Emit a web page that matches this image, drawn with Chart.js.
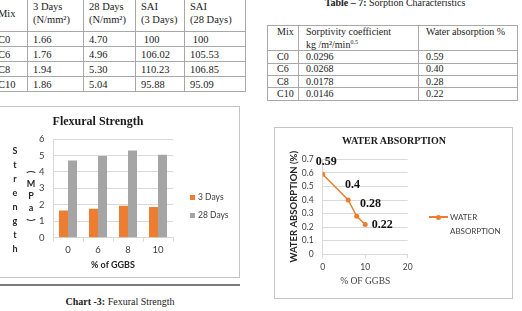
<!DOCTYPE html>
<html>
<head>
<meta charset="utf-8">
<script src="https://cdn.jsdelivr.net/npm/chart.js@4.4.1/dist/chart.umd.min.js"></script>
<style>
body { margin: 0; width: 522px; height: 311px; overflow: hidden; background: #fff; position: relative; font-family: "Liberation Serif", serif; color: #1a1a1a; }
.abs { position: absolute; }
table { position: absolute; border-collapse: collapse; table-layout: fixed; }
td { border: 1px solid #a8a8a8; padding: 0 0 0 5px; white-space: nowrap; overflow: hidden; }
#strength-table { left: -8px; top: -6px; width: 253px; font-size: 10.5px; }
#strength-table td { vertical-align: middle; line-height: 13px; }
#sorption-table { left: 267px; top: 25px; width: 250px; font-size: 10px; }
#sorption-table td { padding-left: 7px; line-height: 10px; }
#sorption-table td:first-child { padding-left: 9px; }
.box { position: absolute; border: 1px solid #c4c4c4; box-sizing: border-box; }
.sans { font-family: Lato, sans-serif; }
</style>
</head>
<body>

<table id="strength-table">
  <colgroup><col style="width:35px"><col style="width:56px"><col style="width:52px"><col style="width:49px"><col style="width:61px"></colgroup>
  <tr style="height:37px"><td>Mix</td><td>3 Days<br>(N/mm²)</td><td>28 Days<br>(N/mm²)</td><td>SAI<br>(3 Days)</td><td>SAI<br>(28 Days)</td></tr>
  <tr style="height:15px"><td>C0</td><td>1.66</td><td>4.70</td><td>&nbsp;100</td><td>&nbsp;100</td></tr>
  <tr style="height:15px"><td>C6</td><td>1.76</td><td>4.96</td><td>106.02</td><td>105.53</td></tr>
  <tr style="height:15px"><td>C8</td><td>1.94</td><td>5.30</td><td>110.23</td><td>106.85</td></tr>
  <tr style="height:15px"><td>C10</td><td>1.86</td><td>5.04</td><td>95.88</td><td>95.09</td></tr>
</table>

<div class="abs" style="left:270px; top:-3px; width:250px; text-align:center; font-size:10px; line-height:12px;"><b>Table – 7:</b> Sorption Characteristics</div>
<table id="sorption-table">
  <colgroup><col style="width:31px"><col style="width:120px"><col style="width:99px"></colgroup>
  <tr style="height:22px"><td style="vertical-align:top; padding-top:1px">Mix</td><td style="vertical-align:top; padding-top:1px">Sorptivity coefficient<br>kg /m²/min<sup style="font-size:6px">0.5</sup></td><td style="vertical-align:top; padding-top:1px">Water absorption %</td></tr>
  <tr style="height:12.3px"><td>C0</td><td>0.0296</td><td>0.59</td></tr>
  <tr style="height:12.3px"><td>C6</td><td>0.0268</td><td>0.40</td></tr>
  <tr style="height:12.3px"><td>C8</td><td>0.0178</td><td>0.28</td></tr>
  <tr style="height:12.3px"><td>C10</td><td>0.0146</td><td>0.22</td></tr>
</table>

<!-- left chart -->
<div class="box" style="left:-2px; top:106px; width:242px; height:172px;"></div>
<canvas id="flex-chart" class="abs" width="240" height="172" style="left:0; top:106px; width:240px; height:172px;"></canvas>
<div class="abs" style="left:0; top:114px; width:196px; text-align:center; font-weight:bold; font-size:12px; line-height:14px;">Flexural Strength</div>
<div class="abs sans" style="left:10px; top:144px; width:10px; text-align:center; font-weight:bold; font-size:9px; line-height:14px; color:#262626;">S<br>t<br>r<br>e<br>n<br>g<br>t<br>h</div>
<div class="abs sans" style="left:26px; top:166px; width:10px; text-align:center; font-weight:bold; font-size:9px; line-height:12px; color:#262626;"><span style="display:inline-block; transform:rotate(90deg)">(</span><br>M<br>P<br>a<br><span style="display:inline-block; transform:rotate(90deg)">)</span></div>
<div class="abs" style="left:190px; top:195px; width:5px; height:5px; background:#ED7D31;"></div>
<div class="abs sans" style="left:198px; top:191px; font-size:8.5px; line-height:12px; color:#404040;">3 Days</div>
<div class="abs" style="left:190px; top:213px; width:5px; height:5px; background:#A5A5A5;"></div>
<div class="abs sans" style="left:198px; top:209px; font-size:8.5px; line-height:12px; color:#404040;">28 Days</div>
<div class="abs" style="left:0; top:284px; width:240px; height:1.5px; background:#7a7a7a;"></div>
<div class="abs" style="left:0; top:296px; width:240px; text-align:center; font-size:10px; line-height:12px;"><b>Chart -3:</b> Fexural Strength</div>

<!-- right chart -->
<div class="box" style="left:274px; top:127px; width:239px; height:172px;"></div>
<canvas id="water-chart" class="abs" width="239" height="172" style="left:274px; top:127px; width:239px; height:172px;"></canvas>
<div class="abs" style="left:274px; top:135px; width:240px; text-align:center; font-weight:bold; font-size:10px; line-height:12px;">WATER ABSORPTION</div>
<div class="abs" style="left:429px; top:216px; width:19px; height:1.5px; background:#ED7D31;"></div>
<div class="abs" style="left:436px; top:214.5px; width:5px; height:5px; border-radius:50%; background:#ED7D31;"></div>
<div class="abs sans" style="left:450px; top:210px; font-size:8px; line-height:14px; color:#404040;">WATER<br>ABSORPTION</div>
<div class="abs" style="left:274px; top:310px; width:240px; text-align:center; font-size:10px; line-height:12px;"><b>Chart -4:</b> Water Absorption</div>

<script>
var ggbsCategories = ['0', '6', '8', '10'];
var flex3Days = [1.66, 1.76, 1.94, 1.86];
var flex28Days = [4.70, 4.96, 5.30, 5.04];

var waterGgbs = [0, 6, 8, 10];
var waterAbsorption = [0.59, 0.40, 0.28, 0.22];

var gridColor = '#D9D9D9';
var tickColor = '#404040';

var FlexChart = new Chart(document.getElementById('flex-chart'), {
    type: 'bar',
    data: {
        labels: ggbsCategories,
        datasets: [{
            label: '3 Days',
            data: flex3Days,
            backgroundColor: '#ED7D31',
            categoryPercentage: 0.6,
            barPercentage: 1
        }, {
            label: '28 Days',
            data: flex28Days,
            backgroundColor: '#A5A5A5',
            categoryPercentage: 0.6,
            barPercentage: 1
        }]
    },
    options: {
        responsive: false,
        animation: false,
        layout: { padding: { left: 0, top: 33, right: 67, bottom: 6.3 } },
        plugins: { legend: { display: false }, tooltip: { enabled: false } },
        scales: {
            x: {
                grid: { drawOnChartArea: false, offset: true, tickLength: 4, color: gridColor },
                border: { color: gridColor },
                ticks: { padding: 3, color: tickColor, font: { family: 'Lato', size: 9.5 } },
                title: {
                    display: true,
                    text: '% of GGBS',
                    color: '#262626',
                    font: { family: 'Lato', size: 9, weight: 'bold' },
                    padding: { top: 0, bottom: 1.3 }
                },
                afterFit: function (scale) { scale.height = 34; }
            },
            y: {
                min: 0,
                max: 6,
                grid: { color: gridColor, drawTicks: false },
                border: { color: gridColor },
                ticks: { stepSize: 1, padding: 8.5, color: tickColor, font: { family: 'Lato', size: 9.5 } },
                afterFit: function (scale) { scale.width = 53; }
            }
        }
    }
});

var waterLabels = {
    id: 'waterLabels',
    afterDatasetsDraw: function (chart) {
        var ctx = chart.ctx;
        var meta = chart.getDatasetMeta(0);
        var shift = [[3.5, -12], [4.3, -15], [13.8, -12.3], [17, 0]];
        ctx.save();
        ctx.font = 'bold 12px "Liberation Serif"';
        ctx.fillStyle = '#111';
        ctx.textAlign = 'center';
        ctx.textBaseline = 'middle';
        meta.data.forEach(function (pt, i) {
            ctx.fillText(String(waterAbsorption[i]), pt.x + shift[i][0], pt.y + shift[i][1]);
        });
        ctx.restore();
    }
};

var WaterChart = new Chart(document.getElementById('water-chart'), {
    type: 'line',
    data: {
        datasets: [{
            label: 'WATER ABSORPTION',
            data: waterGgbs.map(function (x, i) { return { x: x, y: waterAbsorption[i] }; }),
            borderColor: '#ED7D31',
            backgroundColor: '#ED7D31',
            borderWidth: 1.5,
            pointRadius: 2.5,
            pointBorderWidth: 0,
            tension: 0
        }]
    },
    plugins: [waterLabels],
    options: {
        responsive: false,
        animation: false,
        layout: { padding: { left: 0, top: 32.3, right: 105.3, bottom: 9.7 } },
        plugins: { legend: { display: false }, tooltip: { enabled: false } },
        scales: {
            x: {
                type: 'linear',
                min: 0,
                max: 20,
                grid: { drawOnChartArea: false, tickLength: 4, color: gridColor },
                border: { color: gridColor },
                ticks: { stepSize: 10, padding: 4.3, color: tickColor, font: { family: 'Lato', size: 8.5 } },
                title: {
                    display: true,
                    text: '% OF GGBS',
                    color: tickColor,
                    font: { family: 'Liberation Serif', size: 9.5 },
                    padding: { top: 0, bottom: 1.9 }
                },
                afterFit: function (scale) { scale.height = 35; }
            },
            y: {
                min: 0,
                max: 0.7,
                grid: { color: gridColor, drawTicks: false },
                border: { color: gridColor },
                ticks: { stepSize: 0.1, padding: 9, color: tickColor, font: { family: 'Lato', size: 8.5 } },
                title: {
                    display: true,
                    text: 'WATER ABSORPTION (%)',
                    color: '#262626',
                    font: { family: 'Lato', size: 9.5, weight: 'bold' },
                    padding: { top: 14, bottom: 0 }
                },
                afterFit: function (scale) { scale.width = 48.7; }
            }
        }
    }
});
</script>
</body>
</html>
